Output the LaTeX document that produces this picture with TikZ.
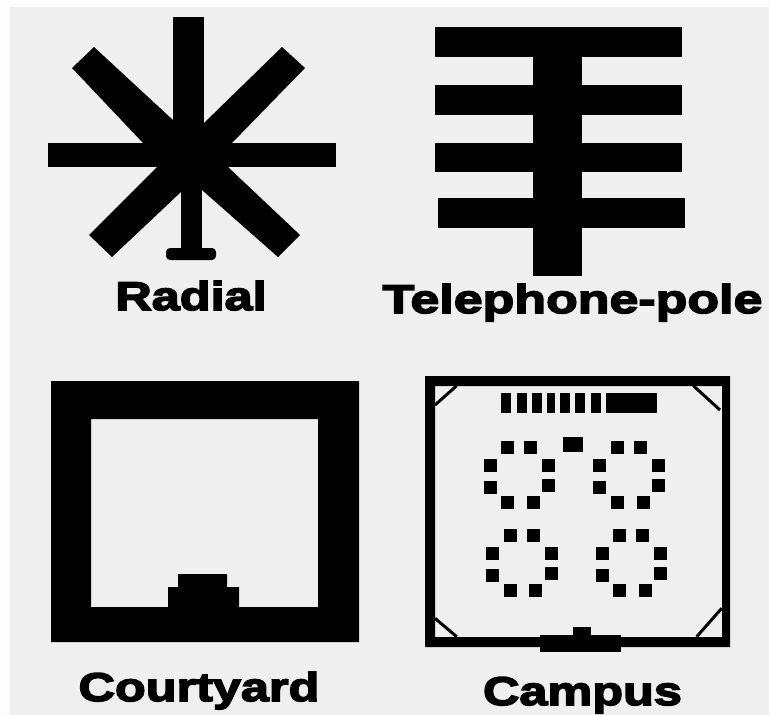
\documentclass[tikz,border=0pt]{standalone}
\usepackage{xcolor}
\usepackage{fontspec}
\usepackage{tikz}
\newfontfamily\labelfont{Liberation Sans Bold}[FakeBold=4,FakeStretch=1.26]
\definecolor{paperwhite}{RGB}{253,253,253}
\definecolor{sitegray}{RGB}{239,239,239}

\begin{document}
\begin{tikzpicture}[x=1pt, y=-1pt,
    block/.style={fill=black},
    brace/.style={draw=black, line width=3pt},
    plan/.style={anchor=base, font=\labelfont\fontsize{40}{40}\selectfont, inner sep=0pt}]
    \useasboundingbox (0,0) rectangle (769,715);
    \fill[paperwhite] (0,0) rectangle (769,715);
    \fill[sitegray] (10,7) rectangle (769,715);

    \fill[block] (173,17) rectangle (204,155);
    \fill[block] (181,155) rectangle (202,252);
    \fill[block, rounded corners=4pt] (166,248) rectangle (216,260);
    \fill[block] (48,143) rectangle (336,167);
    \fill[block] (72,68) -- (94,47) -- (173,120) -- (191,155) -- (143,143) -- cycle;
    \fill[block] (282,47) -- (305,68) -- (232,143) -- (191,155) -- (204,123) -- cycle;
    \fill[block] (89,235) -- (112,257) -- (181,192) -- (191,155) -- (157,167) -- cycle;
    \fill[block] (278,257) -- (300,235) -- (228,167) -- (191,155) -- (202,190) -- cycle;
    \node[plan] (radial) at (191,310) {Radial};

    \foreach \ya/\yb/\xa in {27/57/435, 85/115/435, 143/172/435, 198/228/438}
        \fill[block] (\xa,\ya) rectangle (\xa+247,\yb);
    \fill[block] (533,27) rectangle (582,276);
    \node[plan, xscale=1.03, transform shape] (telephone) at (572.5,313) {Telephone-pole};

    \fill[block, even odd rule] (51,381) rectangle (359,642)
        (91,419) -- (318,419) -- (318,607) -- (239,607) -- (239,587) -- (227,587) -- (227,574)
        -- (178,574) -- (178,587) -- (168,587) -- (168,607) -- (91,607) -- cycle;
    \node[plan] (courtyard) at (199,701) {Courtyard};

    \fill[block, even odd rule] (425,376) rectangle (730,647) (435,386) rectangle (722,637);
    \draw[brace] (435,405) -- (456.7,385.7);
    \draw[brace] (693.3,385.7) -- (720,410);
    \draw[brace] (435,618.3) -- (456.7,636.7);
    \draw[brace] (721.7,608.3) -- (696.7,636.7);
    \foreach \xa/\xb in {501/511, 516.7/526.7, 532/542, 547.3/555, 560/570, 575.3/585.3, 590.7/600.7, 606/656.7}
        \fill[block] (\xa,393.3) rectangle (\xb,413.3);
    \fill[block] (562.7,436.7) rectangle (583.3,451.7);
    \fill[block] (540,635) rectangle (621,651.7);
    \fill[block] (572.7,626.7) rectangle (590.7,636);
    \foreach \dx/\dy in {0/0, 109.7/0, 2.5/88, 112/88}
        \foreach \px/\py in {507.7/447.3, 530.7/447.3, 490/465, 548.7/465, 490/487.3, 548.7/485, 507.7/502.7, 533.3/502.7}
            \fill[block] (\px+\dx-6.5,\py+\dy-6.5) rectangle (\px+\dx+6.5,\py+\dy+6.5);
    \node[plan] (campus) at (582.5,705) {Campus};
\end{tikzpicture}
\end{document}
